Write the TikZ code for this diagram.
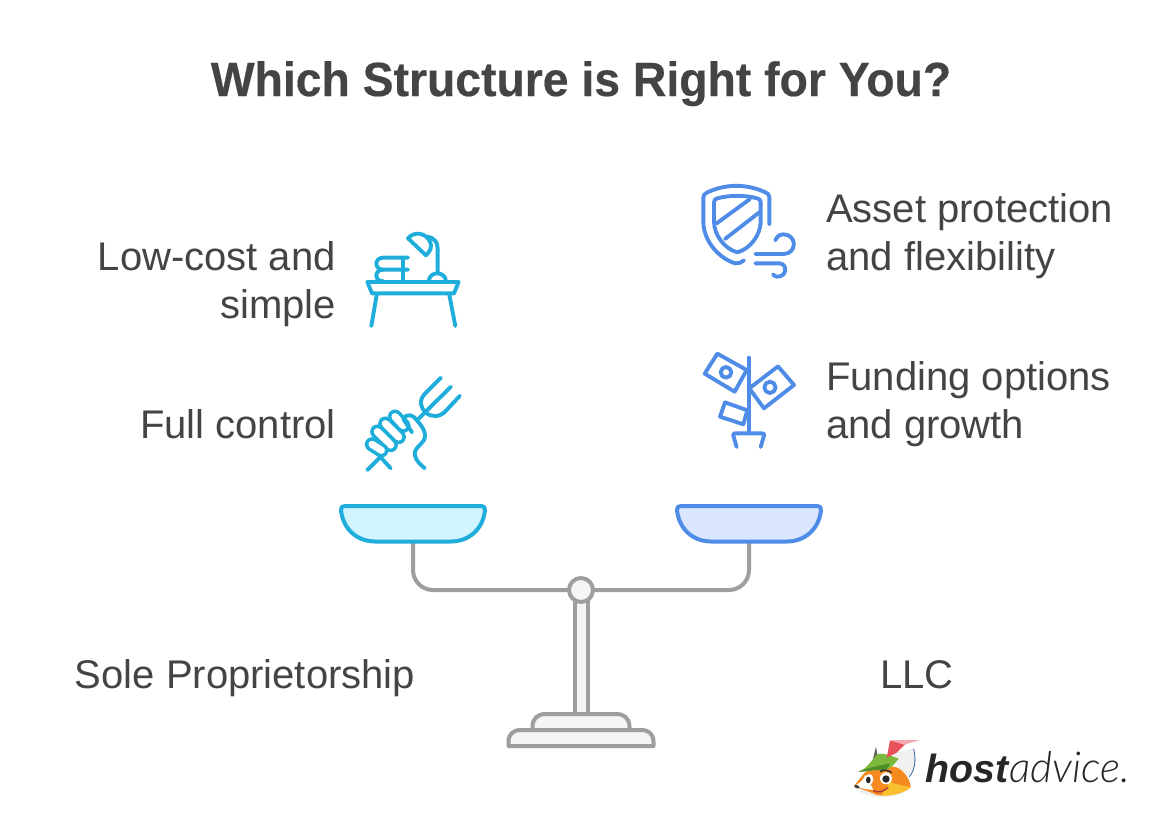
\documentclass[tikz,border=0pt]{standalone}
\usepackage{fontspec}
\setmainfont{Liberation Sans}
\newfontfamily\headingfont{Liberation Sans Bold}[FakeStretch=0.965,FakeBold=0.4]
\newfontfamily\brandbold{Liberation Sans Bold Italic}
\newfontfamily\brandlight{Lato Light Italic}
\definecolor{ink}{HTML}{444444}
\definecolor{cyanline}{HTML}{1FAEDC}
\definecolor{cyanfill}{HTML}{D2F4FF}
\definecolor{blueline}{HTML}{4E8CE8}
\definecolor{bluefill}{HTML}{DAE7FF}
\definecolor{steel}{HTML}{9E9E9E}
\definecolor{steelfill}{HTML}{F5F5F5}
\definecolor{foxorange}{HTML}{F58A1F}
\definecolor{foxyellow}{HTML}{FBC02D}
\definecolor{capgreen}{HTML}{7DB83F}
\definecolor{capdark}{HTML}{4E8F2A}
\definecolor{plume}{HTML}{E8505B}
\definecolor{plumelight}{HTML}{F5A9AE}
\tikzset{
  label text/.style={text=ink,font=\fontsize{30}{36}\selectfont,inner sep=0pt},
  icon cyan/.style={draw=cyanline,line width=2.9pt,line cap=round,line join=round},
  icon blue/.style={draw=blueline,line width=2.9pt,line cap=round,line join=round},
  frame/.style={draw=steel,line width=3pt,line join=round},
  finger/.style={draw=cyanline,line width=2.7pt,line cap=round,double=white,double distance=5.4pt},
  icon grid/.style={x=0.25pt,y=-0.25pt},
}
\begin{document}
\begin{tikzpicture}[x=0.75pt,y=-0.75pt]
\useasboundingbox (0,0) rectangle (1172,832);
\fill[white] (0,0) rectangle (1172,832);

% heading and captions
\node[text=ink,font=\headingfont\fontsize{36}{42}\selectfont,inner sep=0pt,anchor=base] (title) at (581,96) {Which Structure is Right for You?};
\node[label text,anchor=base east] (lowcostA) at (336,270.5) {Low-cost and};
\node[label text,anchor=base east] (lowcostB) at (336,318.5) {simple};
\node[label text,anchor=base east] (fullcontrol) at (336,438.5) {Full control};
\node[label text,anchor=base west] (assetA) at (826,222.5) {Asset protection};
\node[label text,anchor=base west] (assetB) at (826,270.5) {and flexibility};
\node[label text,anchor=base west] (fundingA) at (826,390.5) {Funding options};
\node[label text,anchor=base west] (fundingB) at (826,438.5) {and growth};
\node[label text,anchor=base] (sole) at (245,688.5) {Sole Proprietorship};
\node[label text,anchor=base] (llc) at (917,688.5) {LLC};

% balance: beam, post, base, pivot
\draw[frame,rounded corners=15pt] (413,542) -- (413,590) -- (749,590) -- (749,542);
\draw[frame,fill=steelfill] (574.5,600) rectangle (587.5,714);
\draw[frame,fill=steelfill] (532.5,729) -- (532.5,727) .. controls (532.5,718) and (538,714) .. (546,714) -- (616,714) .. controls (624,714) and (629.5,718) .. (629.5,727) -- (629.5,729);
\draw[frame,fill=steelfill] (508.5,746) -- (508.5,742) .. controls (508.5,734) and (513,730) .. (521,730) -- (641,730) .. controls (649,730) and (653.5,734) .. (653.5,742) -- (653.5,746) -- cycle;
\draw[frame,fill=steelfill] (581,590) circle (12);

% pans
\draw[draw=cyanline,fill=cyanfill,line width=3pt,line join=round]
  (341,510) .. controls (341,507) and (342,506) .. (345,506) -- (481,506) .. controls (484,506) and (485,507) .. (485,510)
  .. controls (483,530) and (468,541.5) .. (451,541.5) -- (375,541.5) .. controls (358,541.5) and (343,530) .. (341,510) -- cycle;
\draw[draw=blueline,fill=bluefill,line width=3pt,line join=round]
  (677,510) .. controls (677,507) and (678,506) .. (681,506) -- (817,506) .. controls (820,506) and (821,507) .. (821,510)
  .. controls (819,530) and (804,541.5) .. (787,541.5) -- (711,541.5) .. controls (694,541.5) and (679,530) .. (677,510) -- cycle;

% desk with books and lamp
\begin{scope}[shift={(350,220)},icon grid]
  \draw[icon cyan] (52,186) -- (326,186) -- (312,220) -- (66,220) -- cycle;
  \draw[icon cyan] (80,225) -- (64,318) (298,225) -- (316,318);
  \draw[icon cyan] (174,113) -- (100,113) .. controls (72,113) and (72,149) .. (100,149) -- (174,149);
  \draw[icon cyan] (100,149) .. controls (72,149) and (72,184) .. (100,184);
  \draw[icon cyan] (158,113) -- (158,184);
  \draw[icon cyan] (236,184) .. controls (238,152) and (286,152) .. (288,184);
  \draw[icon cyan] (263,158) -- (263,85) .. controls (263,65) and (250,52) .. (232,50);
  \draw[icon cyan] (174,55) .. controls (190,35) and (225,35) .. (240,65) .. controls (248,80) and (240,95) .. (228,106) -- cycle;
\end{scope}

% fist holding a fork
\begin{scope}[shift={(350,365)},icon grid]
  \draw[icon cyan] (273,38) -- (225,86) .. controls (205,106) and (212,130) .. (228,143) .. controls (245,158) and (270,158) .. (290,135) -- (330,92);
  \draw[icon cyan] (303,65) -- (235,132) -- (205,162);
  \draw[icon cyan] (52,315) -- (95,272) (88,272) -- (122,310);
  \draw[finger] (135,155) -- (160,182);
  \draw[finger] (106,176) -- (146,216);
  \draw[finger] (82,200) -- (122,240);
  \draw[finger] (66,238) -- (94,256);
  \draw[icon cyan] (160,160) .. controls (172,144) and (190,150) .. (200,165) .. controls (222,190) and (232,210) .. (220,228) .. controls (208,245) and (190,252) .. (195,272) .. controls (198,288) and (212,298) .. (224,310);
  \draw[icon cyan] (160,162) -- (186,202);
\end{scope}

% shield in the wind
\begin{scope}[shift={(690,175)},icon grid]
  \draw[icon blue] (238,148) -- (238,66) .. controls (238,58) and (232,54) .. (226,52) .. controls (170,26) and (108,26) .. (52,52) .. controls (44,56) and (40,60) .. (40,68) -- (40,140) .. controls (40,200) and (90,252) .. (136,265) .. controls (145,267) and (155,262) .. (162,256);
  \draw[icon blue] (72,82) .. controls (72,74) and (76,72) .. (82,70) .. controls (120,60) and (164,60) .. (202,70) .. controls (208,72) and (212,74) .. (212,82) -- (212,140) .. controls (212,180) and (180,222) .. (142,232) .. controls (104,222) and (72,180) .. (72,140) -- cycle;
  \draw[icon blue] (80,145) -- (180,72) (105,192) -- (208,112);
  \draw[icon blue] (196,237) -- (280,237) .. controls (322,237) and (322,178) .. (280,178) .. controls (268,178) and (260,186) .. (256,196);
  \draw[icon blue] (196,265) -- (268,265) .. controls (295,267) and (290,306) .. (262,305) .. controls (256,305) and (252,302) .. (249,298);
\end{scope}

% plant growing banknotes
\begin{scope}[shift={(690,345)},icon grid]
  \draw[icon blue] (176,38) -- (176,264);
  \draw[icon blue] (140,306) -- (130,272) .. controls (128,267) and (131,265) .. (136,265) -- (216,265) .. controls (221,265) and (224,267) .. (222,272) -- (212,306);
  \draw[icon blue] (170,75) -- (82,26) -- (44,86) -- (134,140) -- (170,75);
  \draw[icon blue] (108,82) circle (16);
  \draw[icon blue] (178,130) -- (264,64) -- (312,120) -- (222,190) -- cycle;
  \draw[icon blue] (240,127) circle (17);
  \draw[icon blue] (172,196) -- (105,172) -- (90,215) -- (160,238) -- cycle;
\end{scope}

% brand mark: fox head with feathered cap
\begin{scope}[shift={(840,730)},icon grid]
  \fill[black!7] (60,185) .. controls (100,208) and (170,205) .. (205,180) -- (200,170) -- (70,170) -- cycle;
  \fill[black!6] (160,70) -- (222,55) .. controls (232,110) and (215,150) .. (185,150) -- cycle;
  \draw[blueline!70!black,line width=0.6pt] (221,56) .. controls (230,95) and (222,125) .. (208,140);
  \fill[foxorange] (72,130) .. controls (90,112) and (140,105) .. (170,112) .. controls (190,120) and (212,150) .. (212,172) .. controls (190,190) and (150,200) .. (110,195) .. controls (85,182) and (60,178) .. (42,168) -- cycle;
  \fill[foxyellow] (150,155) .. controls (165,165) and (190,165) .. (212,172) .. controls (190,190) and (150,200) .. (125,196) -- cycle;
  \fill[white] (42,168) .. controls (60,160) and (70,150) .. (76,135) .. controls (90,155) and (95,170) .. (100,180) .. controls (80,178) and (60,175) .. (42,168) -- cycle;
  \fill[black!75] (42,166) .. controls (48,162) and (56,166) .. (60,172) .. controls (52,178) and (44,175) .. (42,166) -- cycle;
  \fill[black!65] (96,100) -- (108,50) -- (115,95) -- cycle;
  \fill[capgreen] (55,125) .. controls (80,118) and (95,90) .. (112,72) .. controls (135,68) and (160,80) .. (176,86) .. controls (165,100) and (155,115) .. (135,120) .. controls (105,118) and (80,125) .. (55,125) -- cycle;
  \fill[capdark] (55,125) .. controls (85,112) and (115,108) .. (150,100) .. controls (145,112) and (140,118) .. (135,120) .. controls (105,118) and (80,125) .. (55,125) -- cycle;
  \fill[plume] (140,84) -- (150,32) -- (198,40) -- (170,68) -- cycle;
  \fill[plumelight] (148,30) -- (240,30) -- (192,44) -- cycle;
  \fill[white] (138,145) circle (18);
  \fill[black!85] (138,147) circle (11);
  \fill[white] (88,148) ellipse (12 and 16);
  \fill[black!85] (85,150) ellipse (7 and 10);
  \draw[black!80,line width=1.2pt] (120,125) .. controls (130,118) and (145,120) .. (155,128);
  \draw[plume!70!black,line width=1pt] (100,182) .. controls (115,190) and (130,185) .. (145,172);
\end{scope}
\node[inner sep=0pt,anchor=base west,text=black!85] (brand) at (925,782)
  {{\brandbold\fontsize{29.5}{36}\selectfont host}\hspace{0.8pt}{\brandlight\fontsize{32}{36}\selectfont advice.}};
\end{tikzpicture}
\end{document}
